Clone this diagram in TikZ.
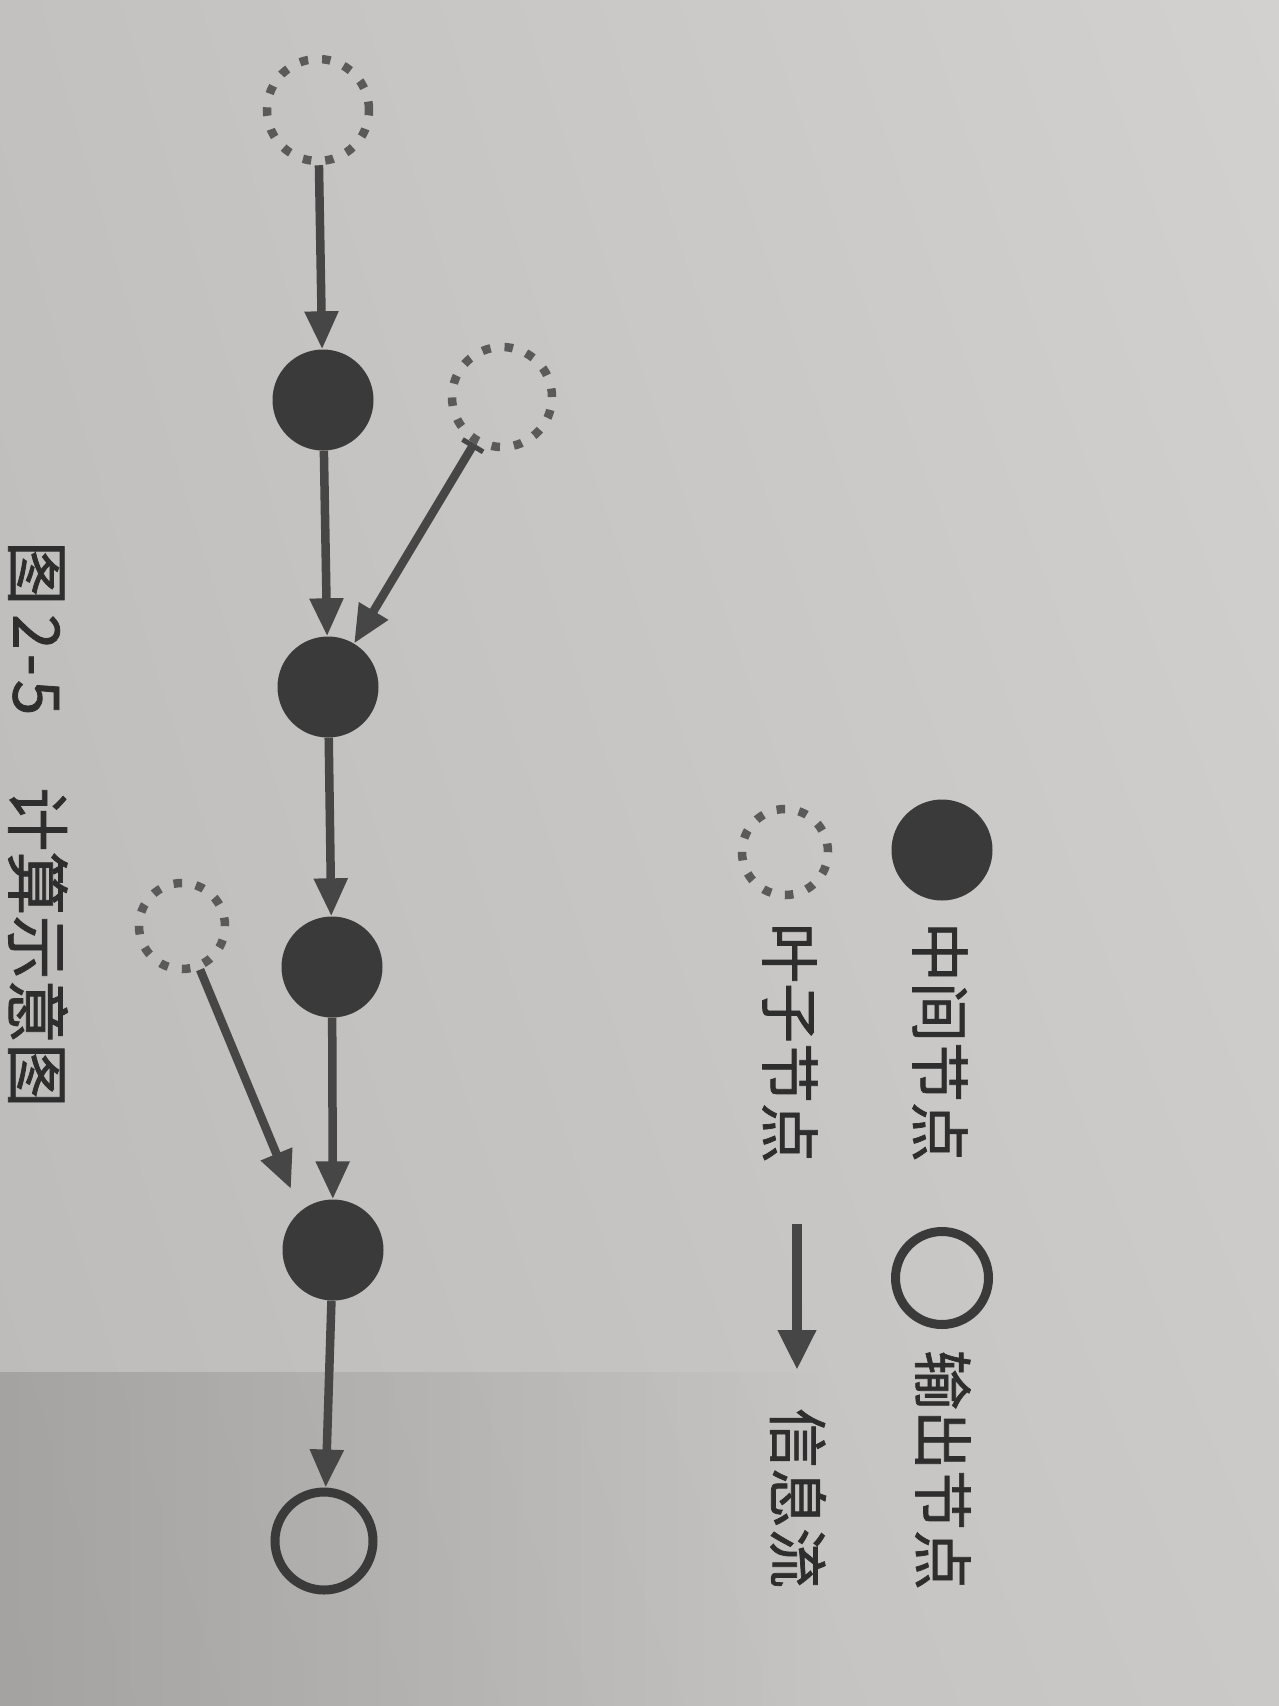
\documentclass[tikz,border=0pt]{standalone}
\usepackage{fontspec}
\setmainfont{Noto Sans CJK SC}
\newfontfamily\cjkmid{Noto Sans CJK SC}[FakeBold=1.2]
\usetikzlibrary{arrows.meta,fadings,shadings}
\definecolor{paperA}{RGB}{194,193,191}
\definecolor{paperB}{RGB}{210,209,207}
\definecolor{paperC}{RGB}{188,187,185}
\definecolor{paperD}{RGB}{202,201,199}
\definecolor{shadowc}{RGB}{140,139,137}
\definecolor{ink}{RGB}{58,58,58}
\definecolor{arrowc}{RGB}{70,70,70}
\definecolor{dotc}{RGB}{90,90,90}
\definecolor{txt}{RGB}{46,46,46}
\tikzfading[name=shadowfade, left color=transparent!0, right color=transparent!100]
\begin{document}
\begin{tikzpicture}[x=1pt,y=-1pt,
  tipT/.tip={Triangle[length=38pt,width=32pt]},
  mid/.style={circle, fill=ink, inner sep=0pt, minimum size=101pt},
  leaf/.style={circle, draw=dotc, line width=8.5pt, dash pattern=on 8.5pt off 14pt, inner sep=0pt, minimum size=#1},
  outnode/.style={circle, draw=ink, line width=9pt, inner sep=0pt, minimum size=#1},
  flow/.style={draw=arrowc, line width=8.5pt, -tipT},
  lbl/.style={rotate=-90, text=txt, font=\cjkmid\fontsize{60pt}{64pt}\selectfont, inner sep=0pt},
  captxt/.style={rotate=-90, text=txt, font=\cjkmid\fontsize{64pt}{68pt}\selectfont, inner sep=0pt}]
\useasboundingbox (0,0) rectangle (1279,1706);
% paper
\shade[upper left=paperA, upper right=paperB, lower left=paperC, lower right=paperD] (0,0) rectangle (1279,1706);
\fill[shadowc, path fading=shadowfade, fit fading=true, opacity=0.5] (0,1372) rectangle (820,1706);
% main chain
\node[leaf=102pt] (l1) at (318,110) {};
\node[mid] (m1) at (323,400) {};
\node[leaf=100pt] (l2) at (502,397) {};
\node[mid] (m2) at (328,687) {};
\node[mid] (m3) at (332,967) {};
\node[leaf=86pt] (l3) at (182,926) {};
\node[mid] (m4) at (333,1250) {};
\node[outnode=98pt] (o) at (324,1541) {};
\coordinate (t3) at (291,1189);
\draw[flow] (l1) -- (m1);
\draw[flow] (m1) -- (m2);
\draw[flow, {Bar[width=24pt,line width=5pt]}-tipT] (l2) -- (m2);
\draw[flow] (m2) -- (m3);
\draw[flow] (m3) -- (m4);
\draw[flow] (l3) -- (t3);
\draw[flow] (m4) -- (o);
% legend
\node[mid] (lgm) at (942,850) {};
\node[lbl] (lgmt) at (940,1042) {中间节点};
\node[outnode=93pt] (lgo) at (942,1278) {};
\node[lbl] (lgot) at (943,1470) {输出节点};
\node[leaf=86pt] (lgl) at (785,852) {};
\node[lbl] (lglt) at (790,1043) {叶子节点};
\coordinate (lga1) at (797,1224);
\coordinate (lga2) at (797,1370);
\draw[flow, line width=10pt, -{Triangle[length=40pt,width=36pt]}] (lga1) -- (lga2);
\node[lbl] (lgft) at (798,1498) {信息流};
% caption
\node[captxt, anchor=west] (cap) at (38,541) {图\hspace{9pt}2\hspace{4pt}-\hspace{4pt}5\hspace{72pt}计算示意图};
\end{tikzpicture}
\end{document}
